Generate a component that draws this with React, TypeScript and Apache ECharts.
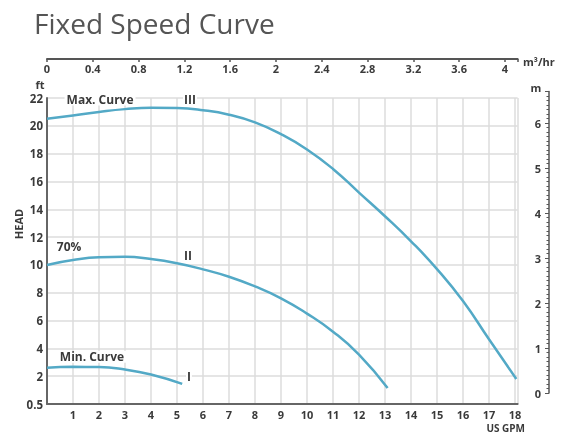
import React, { useEffect, useRef } from "react";
import * as echarts from "echarts";

// Flow (US GPM) and head (ft)
const maxGpm = [0, 1, 2, 3, 4, 5, 6, 7, 8, 9, 10, 11, 12, 13, 14, 15, 16, 17, 18.05];
const maxHead = [20.5, 20.75, 21.0, 21.2, 21.3, 21.28, 21.12, 20.8, 20.25, 19.4, 18.3, 16.9, 15.2, 13.5, 11.7, 9.7, 7.4, 4.65, 1.8];
const midGpm = [0, 1, 2, 3, 4, 5, 6, 7, 8, 9, 10, 11, 12, 13.1];
const midHead = [10.0, 10.35, 10.55, 10.58, 10.42, 10.12, 9.68, 9.15, 8.45, 7.6, 6.5, 5.2, 3.55, 1.15];
const minGpm = [0, 1, 2, 3, 4, 5.2];
const minHead = [2.6, 2.67, 2.66, 2.48, 2.12, 1.45];

const curveNames = ["Max. Curve", "70%", "Min. Curve"];
const curveNumerals = ["III", "II", "I"];
// annotation anchors [gpm, ft]
const nameAnchors = [[2.04, 21.9], [0.85, 11.3], [1.73, 3.4]];
const numeralAnchors = [[5.5, 21.9], [5.42, 10.7], [5.46, 1.95]];

const gpmMax = 18.1;
const m3hPerGpm = 0.22712;
const yTickBottomLabel = "0.5";

const TEXT = "#3a3a3a";
const LINE = "#53a9c6";
const FONT = "'Open Sans', 'Noto Sans', sans-serif";

export default function App() {
  const ref = useRef<HTMLDivElement>(null);
  useEffect(() => {
    const chart = echarts.init(ref.current!, undefined, { renderer: "svg" });
    const pairs = (xs: number[], ys: number[]) => xs.map((x, i) => [x, ys[i]]);
    const curves = [pairs(maxGpm, maxHead), pairs(midGpm, midHead), pairs(minGpm, minHead)];
    const labelStyle = { fontFamily: FONT, fontWeight: "bold" as const, fontSize: 11, color: TEXT };

    chart.setOption({
      animation: false,
      grid: [
        { left: 47, right: 46.4, top: 98, bottom: 29 },
        { left: 47, right: 46.4, top: 40, bottom: 374 },
        { left: 520, right: 15, top: 91.5, bottom: 40 },
      ],
      xAxis: [
        {
          gridIndex: 0,
          type: "value",
          min: 0,
          max: gpmMax,
          interval: 1,
          axisLine: { show: true, onZero: false, lineStyle: { color: "#666", width: 2 } },
          axisTick: { show: false },
          splitLine: { show: true, lineStyle: { color: "#dcdcdc", width: 1.5 } },
          axisLabel: {
            ...labelStyle,
            margin: 4,
            lineHeight: 12,
            formatter: (v: number) => (v > 0 && Number.isInteger(v) ? String(v) : ""),
          },
        },
        {
          gridIndex: 1,
          type: "value",
          position: "bottom",
          min: 0,
          max: gpmMax * m3hPerGpm,
          interval: 0.4,
          axisLine: { show: true, onZero: false, lineStyle: { color: "#555", width: 2 } },
          axisTick: { show: true, length: 3, lineStyle: { color: "#555", width: 1.5 } },
          splitLine: { show: false },
          axisLabel: {
            ...labelStyle,
            margin: 4,
            formatter: (v: number) => (v <= 4.01 ? String(Math.round(v * 10) / 10) : ""),
          },
        },
        { gridIndex: 2, type: "value", min: 0, max: 1, show: false },
      ],
      yAxis: [
        {
          gridIndex: 0,
          type: "value",
          min: 0,
          max: 22,
          interval: 2,
          axisLine: { show: true, onZero: false, lineStyle: { color: "#666", width: 2 } },
          axisTick: { show: false },
          splitLine: { show: true, lineStyle: { color: "#dcdcdc", width: 1.5 } },
          axisLabel: {
            ...labelStyle,
            fontSize: 11.5,
            margin: 4,
            formatter: (v: number) => (v === 0 ? yTickBottomLabel : String(v)),
          },
        },
        { gridIndex: 1, type: "value", min: 0, max: 1, show: false },
        {
          gridIndex: 2,
          type: "value",
          position: "right",
          min: 0,
          max: 6.7,
          interval: 1,
          axisLine: { show: true, onZero: false, lineStyle: { color: "#555", width: 1.5 } },
          axisTick: { show: true, inside: true, length: 4, lineStyle: { color: "#555" } },
          minorTick: { show: true, splitNumber: 10, length: 2.5, lineStyle: { color: "#555" } },
          splitLine: { show: false },
          minorSplitLine: { show: false },
          axisLabel: {
            ...labelStyle,
            inside: true,
            margin: 8,
            formatter: (v: number) => (Number.isInteger(v) ? String(v) : ""),
          },
        },
      ],
      series: curves.map((data, i) => ({
        type: "line",
        xAxisIndex: 0,
        yAxisIndex: 0,
        data,
        smooth: true,
        showSymbol: false,
        symbol: "none",
        lineStyle: { color: LINE, width: 2.5 },
        markPoint: {
          symbol: "circle",
          symbolSize: 1,
          itemStyle: { color: "rgba(0,0,0,0)" },
          label: { show: true, position: "inside", ...labelStyle, fontSize: 12 },
          data: [
            {
              coord: nameAnchors[i],
              value: curveNames[i],
              label: {
                formatter: curveNames[i],
                backgroundColor: "#fff",
                padding: [0, 2],
              },
            },
            {
              coord: numeralAnchors[i],
              value: curveNumerals[i],
              label: { formatter: curveNumerals[i], backgroundColor: "#fff", padding: [0, 1] },
            },
          ],
        },
      })),
      graphic: [
        {
          type: "text",
          x: 34,
          y: 23,
          style: {
            text: "Fixed Speed Curve",
            font: `normal 28px ${FONT}`,
            fill: "#555",
            textAlign: "left",
            textVerticalAlign: "middle",
          },
        },
        { type: "text", x: 40, y: 84, style: { text: "ft", font: `bold 11px ${FONT}`, fill: TEXT, textAlign: "center", textVerticalAlign: "middle" } },
        { type: "text", x: 523, y: 61, style: { text: "m³/hr", font: `bold 11px ${FONT}`, fill: TEXT, textAlign: "left", textVerticalAlign: "middle" } },
        { type: "text", x: 536, y: 87, style: { text: "m", font: `bold 11px ${FONT}`, fill: TEXT, textAlign: "center", textVerticalAlign: "middle" } },
        { type: "text", x: 525, y: 427.5, style: { text: "US GPM", font: `bold 10px ${FONT}`, fill: TEXT, textAlign: "right", textVerticalAlign: "middle" } },
        {
          type: "text",
          x: 18,
          y: 224,
          rotation: Math.PI / 2,
          style: { text: "HEAD", font: `bold 11px ${FONT}`, fill: TEXT, textAlign: "center", textVerticalAlign: "middle" },
        },
      ],
    });
    return () => chart.dispose();
  }, []);
  return <div ref={ref} style={{ position: "fixed", left: 0, top: 0, width: 564, height: 433 }} />;
}
